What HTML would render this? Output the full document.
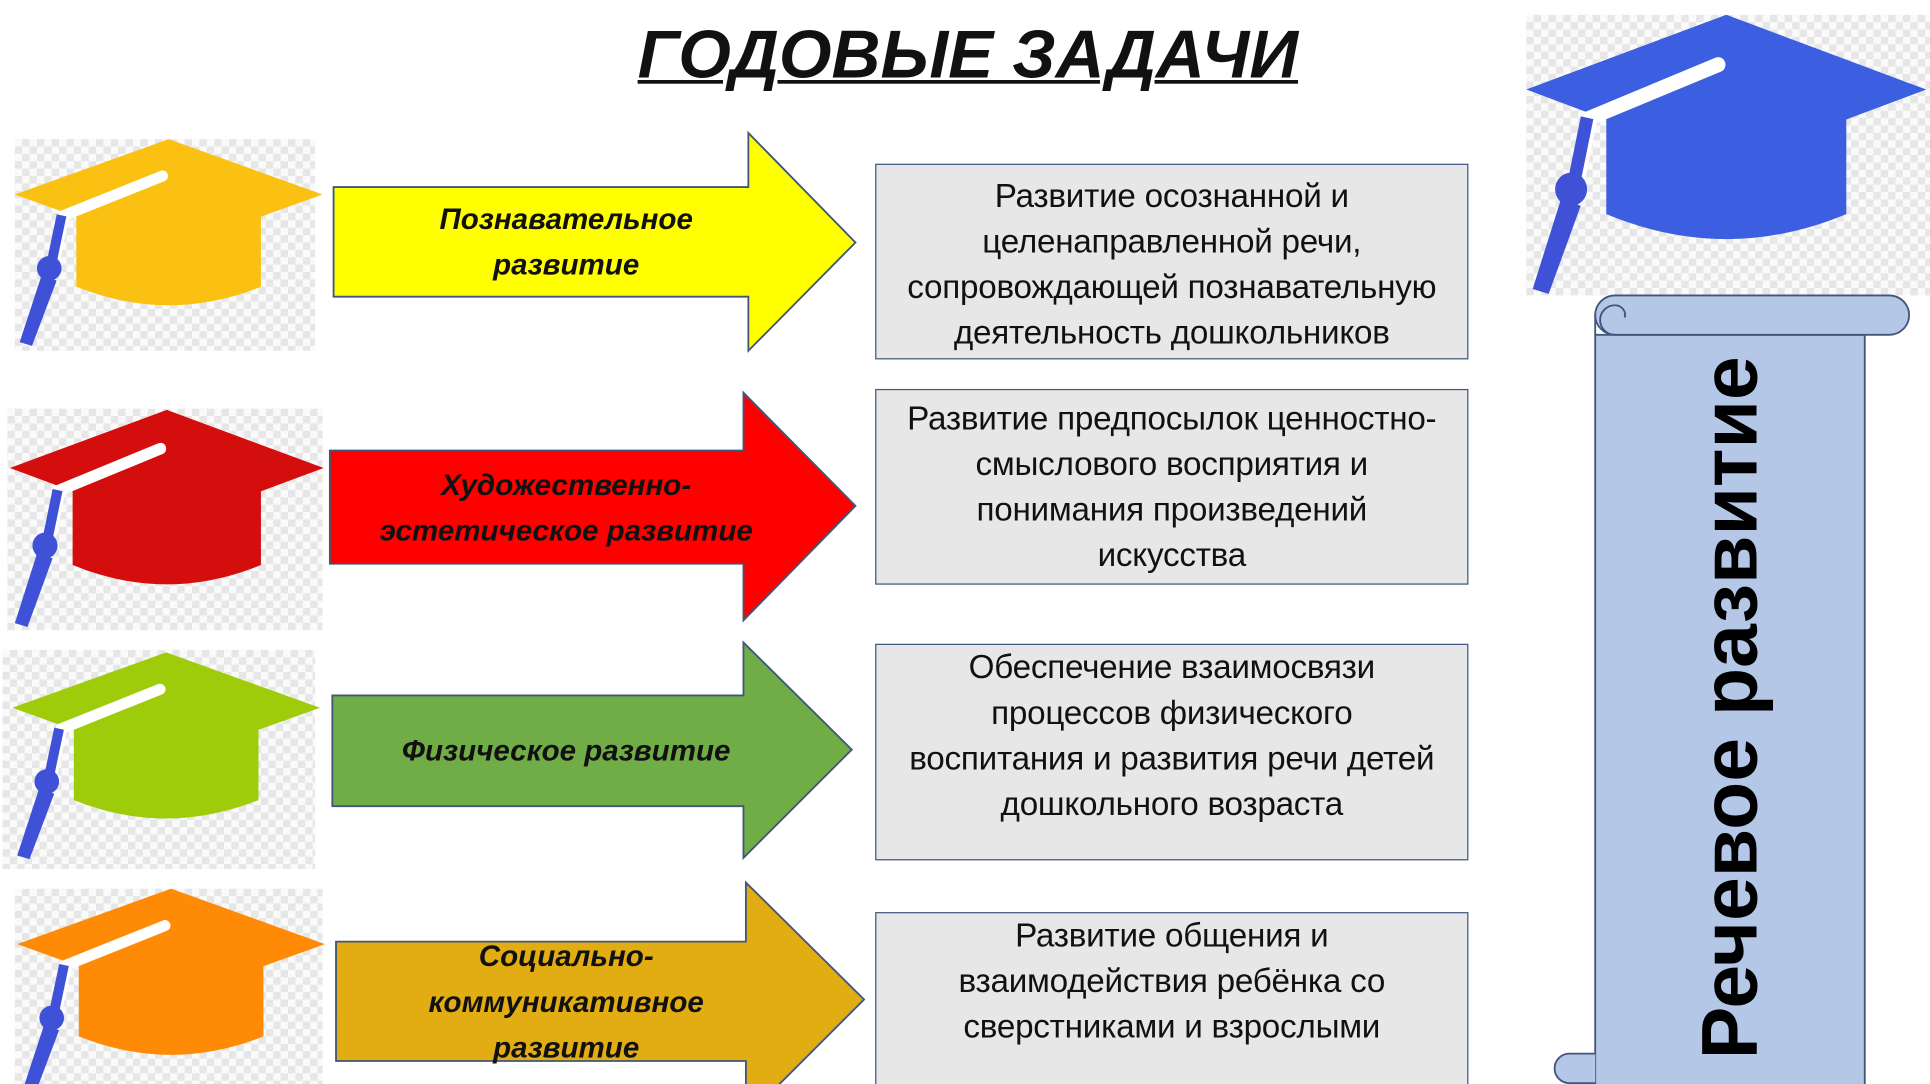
<!DOCTYPE html>
<html><head><meta charset="utf-8"><style>
html,body{margin:0;padding:0;background:#fff;overflow:hidden;width:1930px;height:1084px}
#w{position:absolute;left:0;top:0;width:1568px;height:881px;overflow:hidden;transform:scale(1.23087);transform-origin:0 0;font-family:"Liberation Sans","DejaVu Sans",sans-serif}
.a{position:absolute}
.box{position:absolute;left:711px;width:482px;background:#e7e7e7;border:1.5px solid #3f5a80;box-sizing:border-box;text-align:center;font-size:27px;line-height:37px;color:#111;padding-top:6px;white-space:nowrap;letter-spacing:-0.2px}
.lab{position:absolute;text-align:center;font-weight:bold;font-style:italic;font-size:24px;line-height:37px;color:#111}
.chk{background-color:#fafafa;background-image:linear-gradient(45deg,#e6e6e6 25%,transparent 25%,transparent 75%,#e6e6e6 75%),linear-gradient(45deg,#e6e6e6 25%,transparent 25%,transparent 75%,#e6e6e6 75%);background-size:12px 12px;background-position:0 0,6px 6px}
</style></head><body><div id="w">
<svg width="0" height="0" style="position:absolute"><defs>
<g id="cap">
<path d="M50 60 L50 120 Q125 150 200 120 L200 60 Z" fill="currentColor"/>
<path d="M0 45 L125 0 L250 45 L125 90 Z" fill="currentColor"/>
<path d="M120 30 L40 62 L32 100" stroke="#fff" stroke-width="9" fill="none" stroke-linecap="round"/>
<path d="M38 62 L30 100" stroke="#3f51d6" stroke-width="8" fill="none"/>
<circle cx="28" cy="105" r="10" fill="#3f51d6"/>
<path d="M22 110 L4 165 L14 168 L34 115 Z" fill="#3f51d6"/>
</g></defs></svg>

<div class="a" style="left:518px;top:12px;font-size:55px;font-weight:bold;font-style:italic;text-decoration:underline;color:#111;white-space:nowrap;text-decoration-thickness:3px">ГОДОВЫЕ ЗАДАЧИ</div>

<div class="a chk" style="left:12px;top:113px;width:244px;height:172px"></div>
<svg class="a" style="left:12px;top:113px;color:#fbc112" width="250" height="175"><use href="#cap"/></svg>
<div class="a chk" style="left:6px;top:332px;width:256px;height:180px"></div>
<svg class="a" style="left:8px;top:333px;color:#d40d0d" width="256" height="180"><use href="#cap" transform="scale(1.02,1.05)"/></svg>
<div class="a chk" style="left:2px;top:528px;width:254px;height:178px"></div>
<svg class="a" style="left:10px;top:530px;color:#9fcc0a" width="250" height="178"><use href="#cap"/></svg>
<div class="a chk" style="left:12px;top:722px;width:250px;height:159px"></div>
<svg class="a" style="left:14px;top:722px;color:#ff8a05" width="250" height="178"><use href="#cap"/></svg>

<div class="a chk" style="left:1240px;top:12px;width:328px;height:228px"></div>
<svg class="a" style="left:1240px;top:12px;color:#3c5ee0" width="330" height="230"><use href="#cap" transform="scale(1.3,1.35)"/></svg>

<svg class="a" style="left:0;top:0" width="1568" height="881">
<polygon points="271,152 608,152 608,108 695,197 608,285 608,241 271,241" fill="#ffff00" stroke="#41577a" stroke-width="1.5"/>
<polygon points="268,366 604,366 604,319 695,411 604,504 604,458 268,458" fill="#ff0000" stroke="#41577a" stroke-width="1.5"/>
<polygon points="270,565 604,565 604,522 692,609 604,697 604,655 270,655" fill="#70ad47" stroke="#41577a" stroke-width="1.5"/>
<polygon points="273,765 606,765 606,717 702,812 606,908 606,862 273,862" fill="#e2ac13" stroke="#41577a" stroke-width="1.5"/>
<path d="M1296 255 L1296 890 L1515 890 L1515 272 L1296 272" fill="#b4c7e7" stroke="#41577a" stroke-width="1.5"/>
<path d="M1312 240 L1535 240 A16 16 0 0 1 1535 272 L1312 272 A16 16 0 0 1 1312 240 Z" fill="#b4c7e7" stroke="#41577a" stroke-width="1.5"/>
<path d="M1312 272 A12 12 0 0 1 1312 248 A8 8 0 0 1 1320 258" fill="none" stroke="#41577a" stroke-width="1.5"/>
<path d="M1296 856 L1275 856 A12 12 0 0 0 1275 880 L1296 880" fill="#b4c7e7" stroke="#41577a" stroke-width="1.5"/>
</svg>
<div class="a" style="left:1405px;top:575px;transform:translate(-50%,-50%) rotate(-90deg);font-size:64px;font-weight:bold;white-space:nowrap;color:#000">Речевое развитие</div>

<div class="lab" style="left:300px;top:160px;width:320px">Познавательное<br>развитие</div>
<div class="lab" style="left:280px;top:376px;width:360px">Художественно-<br>эстетическое развитие</div>
<div class="lab" style="left:290px;top:592px;width:340px">Физическое развитие</div>
<div class="lab" style="left:290px;top:759px;width:340px">Социально-<br>коммуникативное<br>развитие</div>

<div class="box" style="top:133px;height:159px;padding-top:7px">Развитие осознанной и<br>целенаправленной речи,<br>сопровождающей познавательную<br>деятельность дошкольников</div>
<div class="box" style="top:316px;height:159px;padding-top:5px">Развитие предпосылок ценностно-<br>смыслового восприятия и<br>понимания произведений<br>искусства</div>
<div class="box" style="top:523px;height:176px;padding-top:0">Обеспечение взаимосвязи<br>процессов физического<br>воспитания и развития речи детей<br>дошкольного возраста</div>
<div class="box" style="top:741px;height:160px;padding-top:0">Развитие общения и<br>взаимодействия ребёнка со<br>сверстниками и взрослыми</div>
</div></body></html>
